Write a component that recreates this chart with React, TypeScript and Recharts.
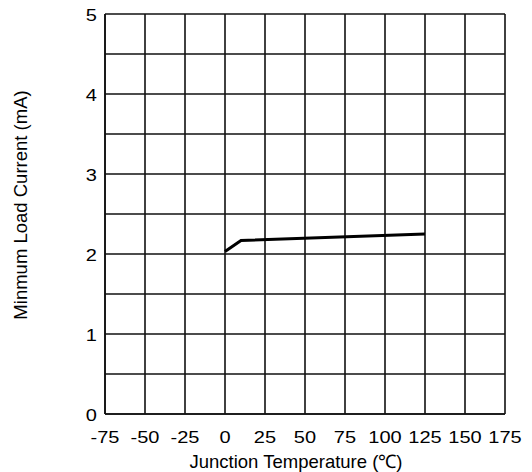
import { LineChart, Line, XAxis, YAxis, CartesianGrid } from 'recharts'

// junction temperature (°C) vs minimum load current (mA)
const temperatures = [0, 10, 125]
const loadCurrent = [2.03, 2.17, 2.25]

const xTicks = [-75, -50, -25, 0, 25, 50, 75, 100, 125, 150, 175]
const yTicks = [0, 0.5, 1, 1.5, 2, 2.5, 3, 3.5, 4, 4.5, 5]

const data = temperatures.map((t, i) => ({ temp: t, current: loadCurrent[i] }))

const font = '"Liberation Sans", Arial, sans-serif'

// tick digits in the original are drawn a bit wider than normal
function XTick({ x, y, payload }: any) {
  return (
    <g transform={`translate(${x},${y})`}>
      <text
        transform="scale(1.25,1)"
        y={21}
        textAnchor="middle"
        fill="#000"
        fontSize={16}
        fontFamily={font}
      >
        {payload.value}
      </text>
    </g>
  )
}

function YTick({ x, y, payload }: any) {
  if (!Number.isInteger(payload.value)) return null
  return (
    <g transform={`translate(${x},${y})`}>
      <text
        transform="scale(1.25,1)"
        y={7}
        textAnchor="end"
        fill="#000"
        fontSize={16}
        fontFamily={font}
      >
        {payload.value}
      </text>
    </g>
  )
}

export default function App() {
  return (
    <div style={{ position: 'absolute', left: 0, top: 0, background: '#fff' }}>
      <LineChart
        width={532}
        height={472}
        data={data}
        margin={{ top: 14, right: 27, bottom: 0, left: 0 }}
      >
        <CartesianGrid stroke="#111" strokeWidth={1.6} />
        <XAxis
          dataKey="temp"
          type="number"
          domain={[-75, 175]}
          ticks={xTicks}
          interval={0}
          height={58}
          axisLine={{ stroke: '#111', strokeWidth: 1.6 }}
          tickLine={false}
          tick={<XTick />}
          label={{
            content: () => (
              <text x={296} y={468} textAnchor="middle" fill="#000" fontSize={18.5} fontFamily={font}>
                Junction Temperature (℃)
              </text>
            )
          }}
        />
        <YAxis
          type="number"
          domain={[0, 5]}
          ticks={yTicks}
          interval={0}
          width={105}
          axisLine={{ stroke: '#111', strokeWidth: 1.6 }}
          tickLine={false}
          tickMargin={2}
          tick={<YTick />}
          label={{
            content: () => (
              <text
                transform="translate(27,205) rotate(-90)"
                textAnchor="middle"
                fill="#000"
                fontSize={18.5}
                fontFamily={font}
              >
                Minmum Load Current (mA)
              </text>
            )
          }}
        />
        <Line
          dataKey="current"
          stroke="#000"
          strokeWidth={3}
          dot={false}
          isAnimationActive={false}
        />
      </LineChart>
    </div>
  )
}
